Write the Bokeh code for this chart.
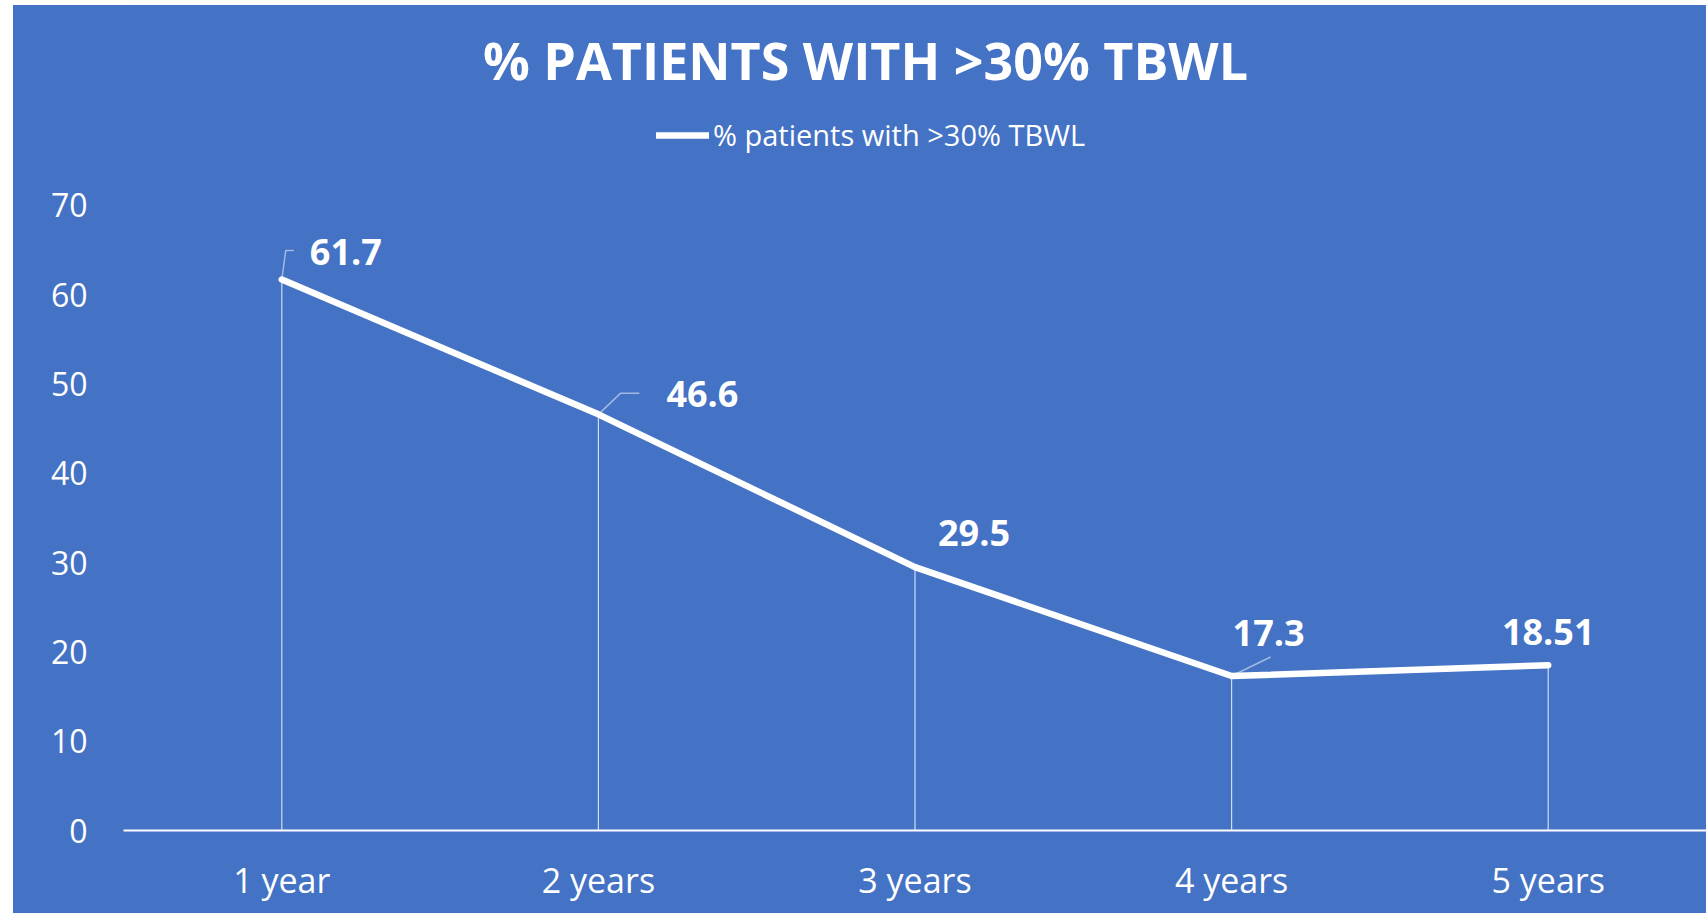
from bokeh.plotting import figure
from bokeh.models import Range1d, FixedTicker, Label, Legend, LegendItem
from bokeh.embed import file_html
from bokeh.resources import INLINE
from bokeh.core.properties import value

# ---------------- data ----------------
categories = ["1 year", "2 years", "3 years", "4 years", "5 years"]
pct = [61.7, 46.6, 29.5, 17.3, 18.51]
label_text = ["61.7", "46.6", "29.5", "17.3", "18.51"]
y_ticks = [0, 10, 20, 30, 40, 50, 60, 70]
title_text = "% PATIENTS WITH >30% TBWL"
series_name = "% patients with >30% TBWL"

# ---------------- style ----------------
BLUE = "#4472C4"
FONT = "Open Sans"
W, H = 1693, 908
BL, BR, BT, BB = 110, 0, 0, 83
PX_PER_UNIT = 8.93
FW, FH = W - BL - BR, H - BT - BB
Y_END = FH / PX_PER_UNIT
PXX = FW / len(categories)
PXY = FH / Y_END

xs = [i + 0.5 for i in range(len(categories))]

p = figure(width=W, height=H, x_range=Range1d(0, len(categories)), y_range=Range1d(0, Y_END),
           output_backend="svg", toolbar_location=None,
           min_border_left=BL, min_border_right=BR, min_border_top=BT, min_border_bottom=BB)
p.margin = (5, 0, 0, 13)
p.styles = {"background-color": BLUE}
p.background_fill_color = None
p.border_fill_color = BLUE
p.outline_line_color = None
p.xgrid.visible = False
p.ygrid.visible = False

# drop lines
p.segment(x0=xs, y0=pct, x1=xs, y1=[0] * len(xs), line_color="white", line_alpha=0.75, line_width=1.2)

# leader lines (pixel offsets from the point)
leaders = {0: [(0, 0), (4, 29), (12, 29)], 1: [(0, 0), (22, 21), (41, 21)], 3: [(0, 0), (39, 19)]}
lx, ly = [], []
for i, pts in leaders.items():
    lx.append([xs[i] + dx / PXX for dx, dy in pts])
    ly.append([pct[i] + dy / PXY for dx, dy in pts])
p.multi_line(lx, ly, line_color="white", line_alpha=0.5, line_width=1.5)

r = p.line(xs, pct, line_color="white", line_width=6.5, line_cap="round", line_join="round")

p.text(xs, pct, text=label_text, x_offset=[64, 104, 59, 37, 0], y_offset=[-28, -20, -34, -43, -33],
       text_align="center", text_baseline="middle", text_font=value(FONT), text_font_style="bold",
       text_font_size="36px", text_color="white")

# axes
p.xaxis.ticker = FixedTicker(ticks=xs)
p.xaxis.major_label_overrides = {x: c for x, c in zip(xs, categories)}
p.xaxis.axis_line_color = "white"
p.xaxis.axis_line_width = 2
p.xaxis.major_tick_line_color = None
p.xaxis.minor_tick_line_color = None
p.xaxis.major_label_text_color = "white"
p.xaxis.major_label_text_font = FONT
p.xaxis.major_label_text_font_size = "34px"
p.xaxis.major_label_standoff = 20

p.yaxis.ticker = FixedTicker(ticks=y_ticks)
p.yaxis.axis_line_color = None
p.yaxis.major_tick_line_color = None
p.yaxis.minor_tick_line_color = None
p.yaxis.major_label_text_color = "white"
p.yaxis.major_label_text_font = FONT
p.yaxis.major_label_text_font_size = "32px"
p.yaxis.major_label_standoff = 30

# title
p.add_layout(Label(x=742, y=771, x_units="screen", y_units="screen", text=title_text,
                   text_align="center", text_baseline="middle", text_color="white",
                   text_font=FONT, text_font_style="bold", text_font_size="52px"))

legend = Legend(items=[LegendItem(label=series_name, renderers=[r])], location=(533, 676),
                background_fill_alpha=0, border_line_color=None, label_text_color="white",
                label_text_font=FONT, label_text_font_size="29px", glyph_width=53, glyph_height=30,
                label_height=30, label_standoff=4, padding=0, margin=0, spacing=0)
p.add_layout(legend)

open("out.html", "w").write(file_html(p, INLINE))
